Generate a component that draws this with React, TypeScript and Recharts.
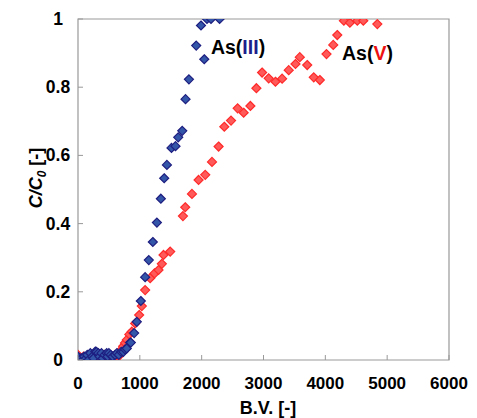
import React from "react";
import { ReferenceArea, ReferenceDot, Scatter, ScatterChart, XAxis, YAxis } from "recharts";

const xTicks = [0, 1000, 2000, 3000, 4000, 5000, 6000];
const yTicks = [0, 0.2, 0.4, 0.6, 0.8, 1];

// As(III) breakthrough, B.V. vs C/C0
const as3BV = [
  0, 20, 50, 80, 100, 130, 150, 170, 200, 230, 250, 280, 300, 330, 350, 380, 400, 430, 465, 480, 500,
  530, 560, 600, 630, 660, 700, 734, 762, 789, 843, 854, 908, 951, 1016, 1086, 1145, 1210, 1276, 1340,
  1394, 1438, 1512, 1577, 1621, 1686, 1739, 1794, 1912, 1989, 2042, 2086, 2151, 2290,
];
const as3C = [
  0.01, 0.0, 0.005, 0.0, 0.01, 0.005, 0.015, 0.0, 0.02, 0.01, 0.005, 0.025, 0.024, 0.02, 0.01, 0.02,
  0.005, 0.015, 0.02, 0.01, 0.02, 0.015, 0.01, 0.015, 0.02, 0.015, 0.024, 0.024, 0.031, 0.034, 0.051,
  0.051, 0.079, 0.112, 0.173, 0.243, 0.293, 0.346, 0.403, 0.473, 0.533, 0.572, 0.622, 0.627, 0.653,
  0.672, 0.765, 0.823, 0.922, 0.981, 0.882, 1.0, 1.0, 1.0,
];

// As(V) breakthrough
const as5BV = [
  0, 30, 60, 90, 120, 150, 180, 210, 240, 270, 300, 330, 357, 400, 430, 460, 490, 519, 550, 580, 610,
  654, 670, 700, 730, 760, 789, 830, 870, 924, 989, 1032, 1086, 1167, 1237, 1302, 1356, 1383, 1491,
  1697, 1734, 1843, 1950, 2058, 2167, 2274, 2366, 2475, 2582, 2679, 2788, 2885, 2977, 3084, 3193,
  3301, 3408, 3517, 3587, 3707, 3813, 3911, 4019, 4128, 4193, 4300, 4397, 4517, 4614, 4841,
];
const as5C = [
  0.015, 0.005, 0.0, 0.01, 0.0, 0.005, 0.0, 0.01, 0.0, 0.005, 0.0, 0.01, 0.0, 0.005, 0.0, 0.01, 0.0,
  0.0, 0.005, 0.01, 0.005, 0.01, 0.02, 0.03, 0.04, 0.05, 0.059, 0.075, 0.083, 0.107, 0.132, 0.158,
  0.205, 0.24, 0.254, 0.264, 0.282, 0.308, 0.318, 0.422, 0.448, 0.487, 0.528, 0.543, 0.581, 0.626,
  0.684, 0.702, 0.738, 0.725, 0.745, 0.797, 0.843, 0.826, 0.816, 0.825, 0.85, 0.868, 0.888, 0.865,
  0.829, 0.821, 0.897, 0.924, 0.953, 0.995, 0.989, 0.995, 0.995, 0.985,
];

const as3Data = as3BV.map((bv, i) => ({ bv, c: as3C[i] }));
const as5Data = as5BV.map((bv, i) => ({ bv, c: as5C[i] }));

const FONT = "'Liberation Sans', Arial, sans-serif";

const diamond = (fill: string, stroke: string) => (props: any) => {
  const { cx, cy } = props;
  const r = 4.5;
  return (
    <polygon
      points={`${cx},${cy - r} ${cx + r},${cy} ${cx},${cy + r} ${cx - r},${cy}`}
      fill={fill}
      stroke={stroke}
      strokeWidth={1.2}
    />
  );
};

const XTick = (props: any) => {
  const { x, y, payload } = props;
  return (
    <g>
      <line x1={x} x2={x} y1={y} y2={y - 5} stroke="#999" />
      <text x={x} y={y + 29} textAnchor="middle" fontSize={17} fontWeight="bold" fontFamily={FONT} fill="#000">
        {payload.value}
      </text>
    </g>
  );
};

const YTick = (props: any) => {
  const { x, y, payload } = props;
  return (
    <g>
      <line x1={x} x2={x + 5} y1={y} y2={y} stroke="#999" />
      <text x={x - 20} y={y + 6} textAnchor="middle" fontSize={17.5} fontWeight="bold" fontFamily={FONT} fill="#000">
        {payload.value}
      </text>
    </g>
  );
};

const seriesLabel = (name: string, color: string) => (props: any) => {
  const { viewBox } = props;
  return (
    <text x={viewBox.x} y={viewBox.y + 7} fontSize={19.5} fontWeight="bold" fontFamily={FONT} fill="#000">
      As(<tspan fill={color}>{name}</tspan>)
    </text>
  );
};

export default function App() {
  return (
    <div style={{ position: "relative", width: 477, height: 418, background: "#fff" }}>
      <style>{"body{margin:0}"}</style>
      <ScatterChart width={477} height={418} margin={{ top: 19, right: 28, left: 0, bottom: 0 }}>
        <XAxis
          type="number"
          dataKey="bv"
          domain={[0, 6000]}
          ticks={xTicks}
          allowDataOverflow
          axisLine={false}
          tickLine={false}
          tickSize={0}
          tickMargin={0}
          height={58}
          tick={<XTick />}
        />
        <YAxis
          type="number"
          dataKey="c"
          domain={[0, 1]}
          ticks={yTicks}
          allowDataOverflow
          axisLine={false}
          tickLine={false}
          tickSize={0}
          tickMargin={0}
          width={78}
          tick={<YTick />}
        />
        <ReferenceArea x1={0} x2={6000} y1={0} y2={1} fill="none" stroke="#999" strokeWidth={1.2} />
        <Scatter data={as5Data} shape={diamond("#ff5a5a", "#ff2a2a")} isAnimationActive={false} />
        <Scatter data={as3Data} shape={diamond("#3356a8", "#1e1e80")} isAnimationActive={false} />
        <ReferenceDot x={2150} y={0.918} r={0} label={seriesLabel("III", "#1e1e8c")} />
        <ReferenceDot x={4270} y={0.9} r={0} label={seriesLabel("V", "#ee1111")} />
      </ScatterChart>
      <svg width={477} height={418} style={{ position: "absolute", left: 0, top: 0, pointerEvents: "none" }}>
        <text x={268} y={414} textAnchor="middle" fontSize={18} fontWeight="bold" fontFamily={FONT} fill="#000">
          B.V. [-]
        </text>
        <text
          transform="translate(42,178) rotate(-90)"
          textAnchor="middle"
          fontSize={18}
          fontWeight="bold"
          fontFamily={FONT}
          fill="#000"
        >
          <tspan fontStyle="italic">C/C</tspan>
          <tspan fontStyle="italic" fontSize={12} dy={4}>0</tspan>
          <tspan dy={-4}> [-]</tspan>
        </text>
      </svg>
    </div>
  );
}
